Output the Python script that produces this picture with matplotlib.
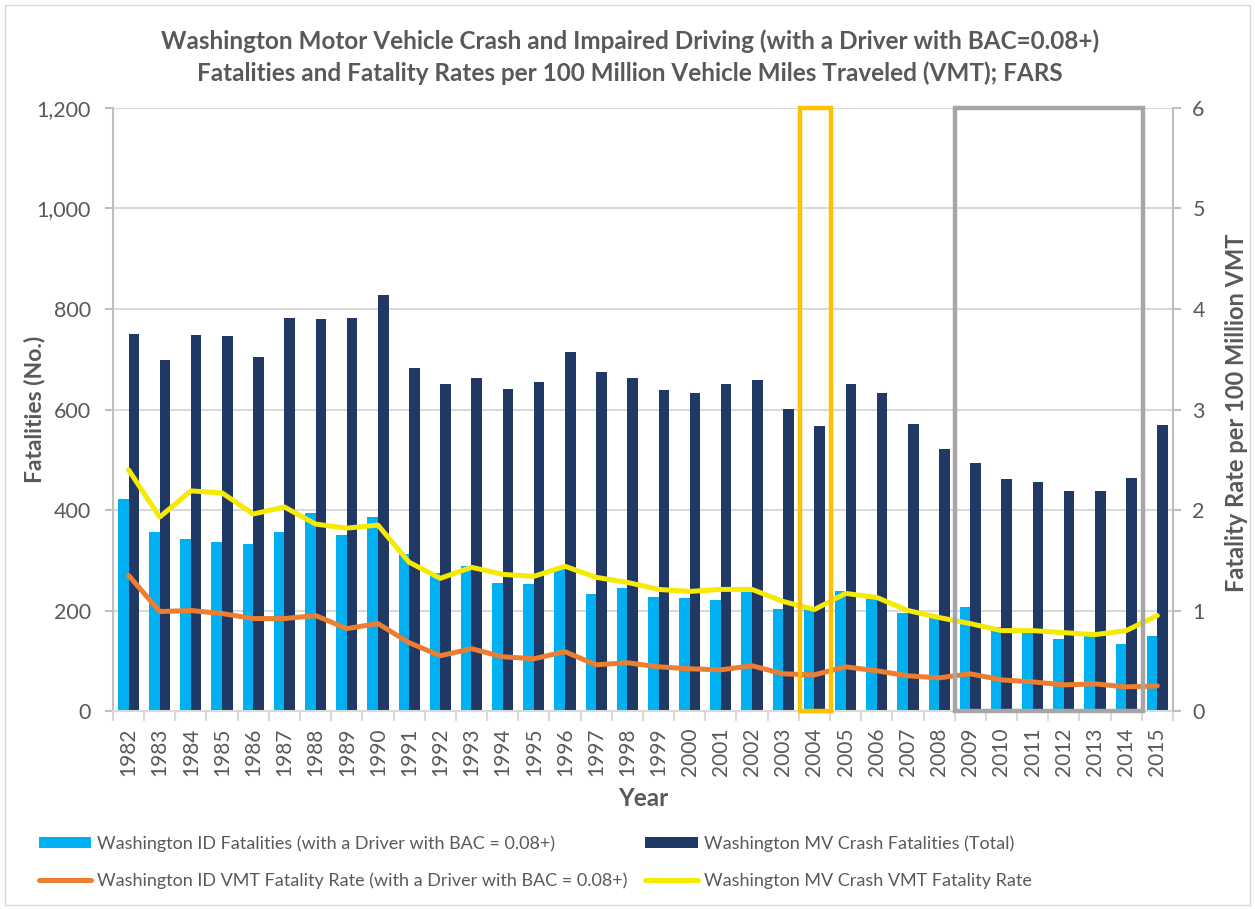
import numpy as np
import matplotlib.pyplot as plt
from matplotlib.patches import Rectangle
from matplotlib.ticker import FuncFormatter

# Dados
years = list(range(1982, 2016))
id_fatalities = [421, 356, 342, 336, 332, 356, 394, 350, 386, 312, 274, 288, 255,
                 253, 283, 233, 245, 227, 225, 221, 237, 203, 203, 239, 223,
                 195, 185, 207, 168, 161, 144, 149, 133, 149]
total_fatalities = [750, 699, 748, 746, 704, 782, 780, 782, 828, 683, 651, 663, 641,
                    655, 714, 675, 663, 639, 633, 651, 659, 601, 567, 651, 633,
                    571, 521, 493, 461, 455, 438, 437, 463, 569]
id_rate = [1.35, 0.99, 1.00, 0.97, 0.92, 0.92, 0.95, 0.82, 0.87, 0.68, 0.55, 0.62, 0.54,
           0.52, 0.59, 0.46, 0.48, 0.44, 0.42, 0.41, 0.45, 0.37, 0.36, 0.44, 0.40,
           0.35, 0.33, 0.37, 0.31, 0.29, 0.26, 0.27, 0.24, 0.25]
total_rate = [2.40, 1.93, 2.19, 2.17, 1.96, 2.03, 1.86, 1.82, 1.85, 1.48, 1.32, 1.43, 1.36,
              1.34, 1.44, 1.33, 1.28, 1.21, 1.19, 1.21, 1.21, 1.09, 1.01, 1.17, 1.13,
              1.00, 0.93, 0.87, 0.80, 0.80, 0.78, 0.76, 0.80, 0.95]

plt.rcParams['font.family'] = ['Lato', 'DejaVu Sans']
cinza = '#595959'

fig = plt.figure(figsize=(12.55, 9.09), dpi=100)
fig.patches.append(Rectangle((0.004, 0.004), 0.992, 0.990, transform=fig.transFigure,
                             fill=False, edgecolor='#D9D9D9', lw=1))

ax = fig.add_axes([0.090, 0.2178, 0.8446, 0.6634])
x = np.arange(len(years))

# Barras
ax.bar(x - 0.17, id_fatalities, 0.34, color='#00B0F0', zorder=2,
       label='Washington ID Fatalities (with a Driver with BAC = 0.08+)')
ax.bar(x + 0.17, total_fatalities, 0.34, color='#203864', zorder=2,
       label='Washington MV Crash Fatalities (Total)')
ax.set_xlim(-0.5, len(years) - 0.5)
ax.set_ylim(0, 1200)
ax.set_yticks(range(0, 1201, 200))
ax.yaxis.set_major_formatter(FuncFormatter(lambda v, p: '{:,.0f}'.format(v)))
ax.grid(axis='y', color='#D9D9D9', lw=1.5, zorder=0)
ax.set_axisbelow(True)

ax.set_xticks(x)
ax.set_xticklabels([str(a) for a in years], rotation=90)
ax.set_xticks(np.arange(-0.5, len(years), 1), minor=True)
ax.tick_params(axis='x', which='major', length=0, pad=12, labelsize=15, labelcolor=cinza)
ax.tick_params(axis='x', which='minor', length=7, width=1.5, color='#D9D9D9')
ax.tick_params(axis='y', length=6, width=1.5, color='#BFBFBF', pad=10,
               labelsize=15.5, labelcolor=cinza)

ax.spines['top'].set_visible(False)
for s in ['left', 'right', 'bottom']:
    ax.spines[s].set_color('#BFBFBF')
    ax.spines[s].set_linewidth(1.5)
ax.spines['bottom'].set_color('#D9D9D9')

ax.set_xlabel('Year', fontsize=17.5, fontweight='bold', color=cinza, labelpad=8)
ax.set_ylabel('Fatalities (No.)', fontsize=16.5, fontweight='bold', color=cinza)
ax.yaxis.set_label_coords(-0.064, 0.5)

# Linhas (taxas)
ax2 = ax.twinx()
ax2.plot(x, id_rate, color='#ED7D31', lw=3.6, solid_capstyle='round',
         label='Washington ID VMT Fatality Rate (with a Driver with BAC = 0.08+)')
ax2.plot(x, total_rate, color='#F5EA00', lw=3.6, solid_capstyle='round',
         label='Washington MV Crash VMT Fatality Rate')
ax2.set_ylim(0, 6)
ax2.set_yticks(range(0, 7))
ax2.tick_params(axis='y', length=6, width=1.5, color='#BFBFBF', pad=8,
                labelsize=15.5, labelcolor=cinza)
for s in ['top', 'left', 'bottom']:
    ax2.spines[s].set_visible(False)
ax2.spines['right'].set_color('#BFBFBF')
ax2.spines['right'].set_linewidth(1.5)
ax2.set_ylabel('Fatality Rate per 100 Million VMT', fontsize=17, fontweight='bold',
               color=cinza)
ax2.yaxis.set_label_coords(1.049, 0.495)

# Caixas de destaque
ax2.add_patch(Rectangle((21.55, 0), 0.99, 6, fill=False, edgecolor='#FFC000',
                        lw=3.2, clip_on=False, zorder=5))
ax2.add_patch(Rectangle((26.52, 0), 6.03, 6, fill=False, edgecolor='#A6A6A6',
                        lw=3.2, clip_on=False, zorder=5))

fig.text(0.502, 0.955, 'Washington Motor Vehicle Crash and Impaired Driving (with a Driver with BAC=0.08+)',
         ha='center', va='center', fontsize=17.5, fontweight='bold', color=cinza)
fig.text(0.502, 0.920, 'Fatalities and Fatality Rates per 100 Million Vehicle Miles Traveled (VMT); FARS',
         ha='center', va='center', fontsize=17.5, fontweight='bold', color=cinza)

# Legenda
h1, l1 = ax.get_legend_handles_labels()
h2, l2 = ax2.get_legend_handles_labels()
fig.legend([h1[0], h2[0], h1[1], h2[1]], [l1[0], l2[0], l1[1], l2[1]],
           loc='upper left', bbox_to_anchor=(0.025, 0.089), ncol=2, frameon=False,
           fontsize=13, labelcolor=cinza, handlelength=2.9, handleheight=0.6,
           handletextpad=0.33, columnspacing=1.0, labelspacing=1.15, borderaxespad=0)

fig.savefig('out.png', dpi=100)
